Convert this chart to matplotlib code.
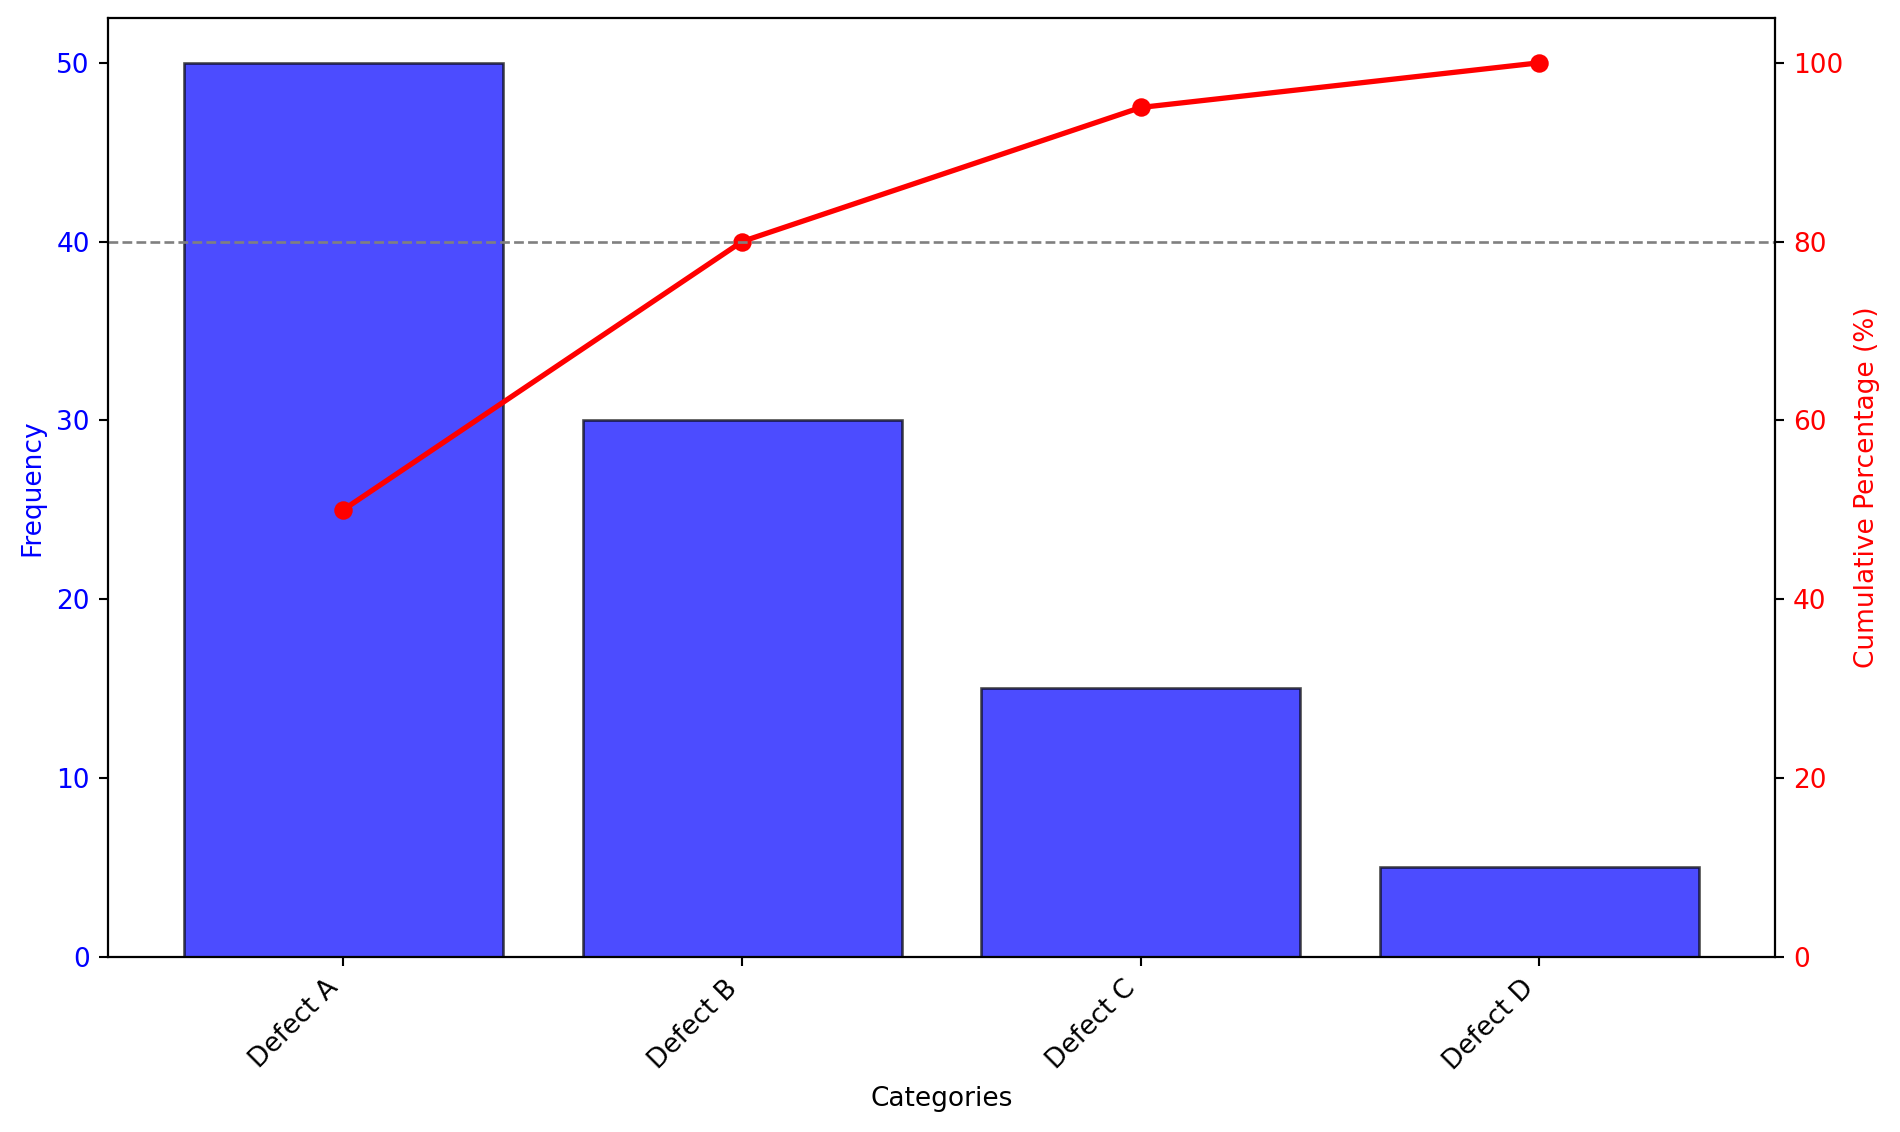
import matplotlib

matplotlib.use("Agg")

import matplotlib.pyplot as plt

categories = ["Defect A", "Defect B", "Defect C", "Defect D"]
frequency = [50, 30, 15, 5]
cumulative_pct = [50, 80, 95, 100]
threshold_pct = 80

fig, ax = plt.subplots(figsize=(10, 5.958), dpi=190)

ax.bar(categories, frequency, color="blue", alpha=0.7, edgecolor="black")
ax.set_xlabel("Categories")
ax.set_ylabel("Frequency", color="blue")
ax.tick_params(axis="y", labelcolor="blue")
plt.setp(ax.get_xticklabels(), rotation=45, ha="right")

ax2 = ax.twinx()
ax2.plot(categories, cumulative_pct, color="red", marker="o", linewidth=2)
ax2.axhline(threshold_pct, color="gray", linestyle="--", linewidth=1)
ax2.set_ylabel("Cumulative Percentage (%)", color="red")
ax2.tick_params(axis="y", labelcolor="red")
ax2.set_ylim(0, 105)

fig.subplots_adjust(left=0.057, right=0.934, top=0.984, bottom=0.155)
fig.savefig("out.png")
